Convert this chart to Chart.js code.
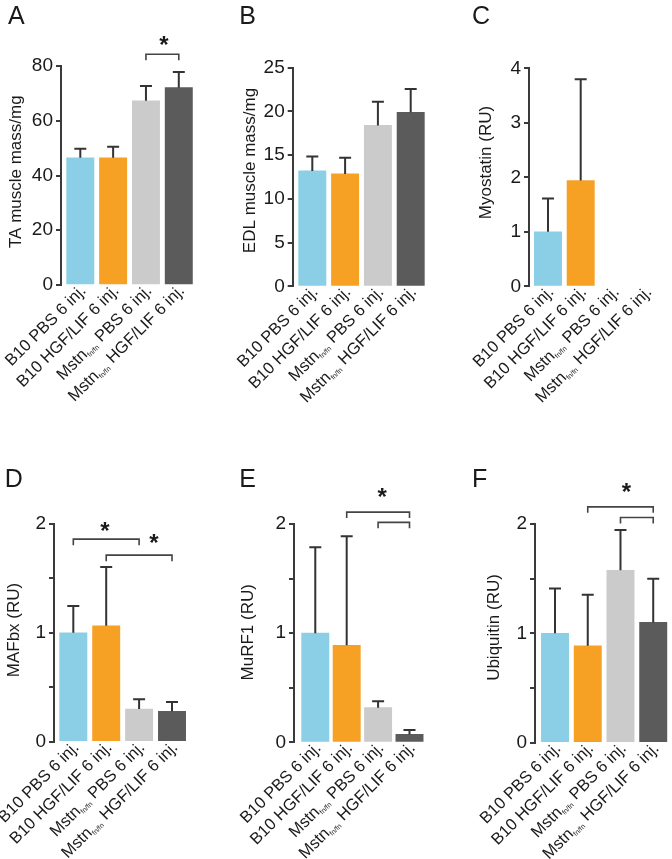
<!DOCTYPE html>
<html>
<head>
<meta charset="utf-8">
<script src="https://cdn.jsdelivr.net/npm/chart.js@4"></script>
<style>
html,body{margin:0;padding:0;background:#fff;}
#wrap{position:relative;width:672px;height:859px;overflow:hidden;background:#fff;}
#wrap canvas{position:absolute;}
</style>
</head>
<body>
<div id="wrap"></div>
<script>
// ---------- DATA ----------
const categories = ['B10 PBS 6 inj.', 'B10 HGF/LIF 6 inj.', 'Mstn_{fn/fn} PBS 6 inj.', 'Mstn_{fn/fn} HGF/LIF 6 inj.'];

const taMass      = [46.5, 46.5, 67.3, 72.1];
const taMassErr   = [3.3, 4.0, 5.4, 5.7];
const edlMass     = [13.2, 12.85, 18.4, 19.9];
const edlMassErr  = [1.65, 1.85, 2.7, 2.65];
const myostatin   = [1.0, 1.94, null, null];
const myostatinErr= [0.61, 1.86, null, null];
const mafbx       = [1.0, 1.065, 0.30, 0.28];
const mafbxErr    = [0.246, 0.54, 0.09, 0.085];
const murf1       = [1.0, 0.888, 0.317, 0.073];
const murf1Err    = [0.786, 1.0, 0.058, 0.04];
const ubiquitin   = [1.0, 0.887, 1.576, 1.10];
const ubiquitinErr= [0.41, 0.466, 0.368, 0.40];

const ticksA = [0, 20, 40, 60, 80];     const tickLabelsA = ['0', '20', '40', '60', '80'];
const ticksB = [0, 5, 10, 15, 20, 25];  const tickLabelsB = ['0', '5', '10', '15', '20', '25'];
const ticksC = [0, 1, 2, 3, 4];         const tickLabelsC = ['0', '1', '2', '3', '4'];
const ticksRU = [0, 0.5, 1, 1.5, 2];    const tickLabelsRU = ['0', '', '1', '', '2'];

// significance brackets: [fromCategory, toCategory, level]
const sigA = [[2, 3, 84.3]];
const sigD = [[0, 2, 1.861], [1, 3, 1.714]];
const sigE = [[1, 3, 2.109], [2, 3, 2.015]];
const sigF = [[1, 3, 2.157], [2, 3, 2.060]];
// stars: [categoryPosition, level]
const starsA = [[2.55, 89.2]];
const starsD = [[0.96, 1.974], [2.45, 1.868]];
const starsE = [[2.13, 2.286]];
const starsF = [[2.18, 2.335]];

// ---------- STYLE / LAYOUT ----------
const FONT = '"Liberation Sans", Arial, Helvetica, sans-serif';
const barColors = ['#8ACFE5', '#F6A024', '#CBCBCB', '#5B5B5B'];
const INK = '#1a1a1a';
const AXIS = '#3a3a3a';
const LABEL_PX = 16.5, SUB_PX = 7;

const panels = [
  {letter:'A', title:'TA muscle mass/mg', values:taMass, errors:taMassErr, ticks:ticksA, tickLabels:tickLabelsA, sig:sigA, stars:starsA,
   box:{x:0, y:0, w:224, h:430}, axisX:61, top:66, bottom:285, right:195.2, xMin:-0.588, titleAt:[16.5,171.7], letterAt:[8,24]},
  {letter:'B', title:'EDL muscle mass/mg', values:edlMass, errors:edlMassErr, ticks:ticksB, tickLabels:tickLabelsB, sig:[], stars:[],
   box:{x:224, y:0, w:224, h:430}, axisX:68.7, top:67.7, bottom:286.3, right:203.1, xMin:-0.598, titleAt:[26,170.5], letterAt:[17.3,24]},
  {letter:'C', title:'Myostatin (RU)', values:myostatin, errors:myostatinErr, ticks:ticksC, tickLabels:tickLabelsC, sig:[], stars:[],
   box:{x:448, y:0, w:224, h:430}, axisX:81, top:68.3, bottom:286.3, right:214.45, xMin:-0.581, titleAt:[38.5,162.5], letterAt:[25,24]},
  {letter:'D', title:'MAFbx (RU)', values:mafbx, errors:mafbxErr, ticks:ticksRU, tickLabels:tickLabelsRU, sig:sigD, stars:starsD,
   box:{x:0, y:430, w:224, h:429}, axisX:54, top:94, bottom:311.7, right:188.45, xMin:-0.587, titleAt:[14.5,200], letterAt:[6.7,56.7]},
  {letter:'E', title:'MuRF1 (RU)', values:murf1, errors:murf1Err, ticks:ticksRU, tickLabels:tickLabelsRU, sig:sigE, stars:starsE,
   box:{x:224, y:430, w:224, h:429}, axisX:70, top:94, bottom:312.3, right:201.2, xMin:-0.678, titleAt:[24.5,202.3], letterAt:[17.3,57.3]},
  {letter:'F', title:'Ubiquitin (RU)', values:ubiquitin, errors:ubiquitinErr, ticks:ticksRU, tickLabels:tickLabelsRU, sig:sigF, stars:starsF,
   box:{x:448, y:430, w:224, h:429}, axisX:87, top:94, bottom:312.7, right:221.6, xMin:-0.611, titleAt:[46.3,197.5], letterAt:[26,57]}
];

function parseLabel(s){
  const parts = []; const re = /_\{([^}]*)\}/g; let last = 0, m;
  while ((m = re.exec(s))) {
    if (m.index > last) parts.push({t:s.slice(last, m.index), sub:false});
    parts.push({t:m[1], sub:true});
    last = re.lastIndex;
  }
  if (last < s.length) parts.push({t:s.slice(last), sub:false});
  return parts;
}

function overlay(p){
  return {
    id: 'overlay' + p.letter,
    afterDatasetsDraw(chart){
      const ctx = chart.ctx, xs = chart.scales.x, ys = chart.scales.y;
      ctx.save();
      ctx.strokeStyle = '#333'; ctx.lineWidth = 2; ctx.lineCap = 'butt';
      p.values.forEach((v, i) => {
        if (v == null || p.errors[i] == null) return;
        const x = xs.getPixelForValue(i);
        const y0 = ys.getPixelForValue(v);
        const y1 = ys.getPixelForValue(v + p.errors[i]);
        ctx.beginPath();
        ctx.moveTo(x, y0); ctx.lineTo(x, y1);
        ctx.moveTo(x - 6, y1); ctx.lineTo(x + 6, y1);
        ctx.stroke();
      });
      ctx.restore();
    },
    afterDraw(chart){
      const ctx = chart.ctx, xs = chart.scales.x, ys = chart.scales.y, area = chart.chartArea;
      ctx.save();
      // category labels (rotated, with subscripts)
      ctx.fillStyle = INK;
      categories.forEach((lab, i) => {
        const parts = parseLabel(lab);
        const ax = xs.getPixelForValue(i) + 6.5, ay = area.bottom + 6.5;
        ctx.save();
        ctx.translate(ax, ay); ctx.rotate(-Math.PI / 4);
        ctx.textAlign = 'left'; ctx.textBaseline = 'alphabetic';
        let total = 0;
        parts.forEach(pt => { ctx.font = (pt.sub ? SUB_PX : LABEL_PX) + 'px ' + FONT; pt.w = ctx.measureText(pt.t).width; total += pt.w; });
        let x = -total;
        parts.forEach(pt => { ctx.font = (pt.sub ? SUB_PX : LABEL_PX) + 'px ' + FONT; ctx.fillText(pt.t, x, pt.sub ? 2.5 : 0); x += pt.w; });
        ctx.restore();
      });
      // brackets
      ctx.strokeStyle = '#444'; ctx.lineWidth = 1.6;
      p.sig.forEach(([a, b, lvl]) => {
        const x1 = xs.getPixelForValue(a), x2 = xs.getPixelForValue(b), y = ys.getPixelForValue(lvl);
        ctx.beginPath();
        ctx.moveTo(x1, y + 6); ctx.lineTo(x1, y); ctx.lineTo(x2, y); ctx.lineTo(x2, y + 6);
        ctx.stroke();
      });
      // stars
      ctx.font = 'bold 24px ' + FONT; ctx.textAlign = 'center'; ctx.textBaseline = 'alphabetic';
      p.stars.forEach(([sx, sy]) => {
        const m = ctx.measureText('*');
        const cx = xs.getPixelForValue(sx), cy = ys.getPixelForValue(sy);
        ctx.fillText('*', cx, cy + (m.actualBoundingBoxAscent - m.actualBoundingBoxDescent) / 2);
      });
      // y axis title
      ctx.save();
      ctx.translate(p.titleAt[0], p.titleAt[1]); ctx.rotate(-Math.PI / 2);
      ctx.font = '17px ' + FONT; ctx.textAlign = 'center'; ctx.textBaseline = 'middle';
      ctx.fillText(p.title, 0, 0);
      ctx.restore();
      // panel letter
      ctx.font = '25px ' + FONT; ctx.textAlign = 'left'; ctx.textBaseline = 'alphabetic';
      const lm = ctx.measureText(p.letter);
      ctx.fillText(p.letter, p.letterAt[0] + lm.actualBoundingBoxLeft, p.letterAt[1]);
      ctx.restore();
    }
  };
}

const wrap = document.getElementById('wrap');
const Y_W = 40;
panels.forEach(p => {
  const c = document.createElement('canvas');
  c.width = p.box.w; c.height = p.box.h;
  c.style.left = p.box.x + 'px'; c.style.top = p.box.y + 'px';
  c.style.width = p.box.w + 'px'; c.style.height = p.box.h + 'px';
  wrap.appendChild(c);
  new Chart(c, {
    type: 'bar',
    data: {
      labels: categories,
      datasets: [{
        label: p.title,
        data: p.values.map((v, i) => ({x: i, y: v})),
        backgroundColor: barColors,
        borderWidth: 0,
        barThickness: 27.3
      }]
    },
    options: {
      responsive: false, animation: false, devicePixelRatio: 1, events: [],
      layout: {padding: {left: p.axisX - Y_W, top: p.top, right: p.box.w - p.right, bottom: p.box.h - p.bottom}},
      plugins: {legend: {display: false}, tooltip: {enabled: false}},
      scales: {
        x: {type: 'linear', display: false, offset: false, min: p.xMin, max: 3.5, grid: {offset: false}},
        y: {
          min: p.ticks[0], max: p.ticks[p.ticks.length - 1],
          afterFit: s => { s.width = Y_W; },
          afterBuildTicks: s => { s.ticks = p.ticks.map(v => ({value: v})); },
          ticks: {callback: (v, i) => p.tickLabels[i], font: {family: FONT, size: 19}, color: INK, padding: 3, autoSkip: false},
          grid: {display: true, drawOnChartArea: false, drawTicks: true, tickLength: 5, color: AXIS, lineWidth: 2},
          border: {display: true, color: AXIS, width: 2}
        }
      }
    },
    plugins: [overlay(p)]
  });
});
</script>
</body>
</html>
